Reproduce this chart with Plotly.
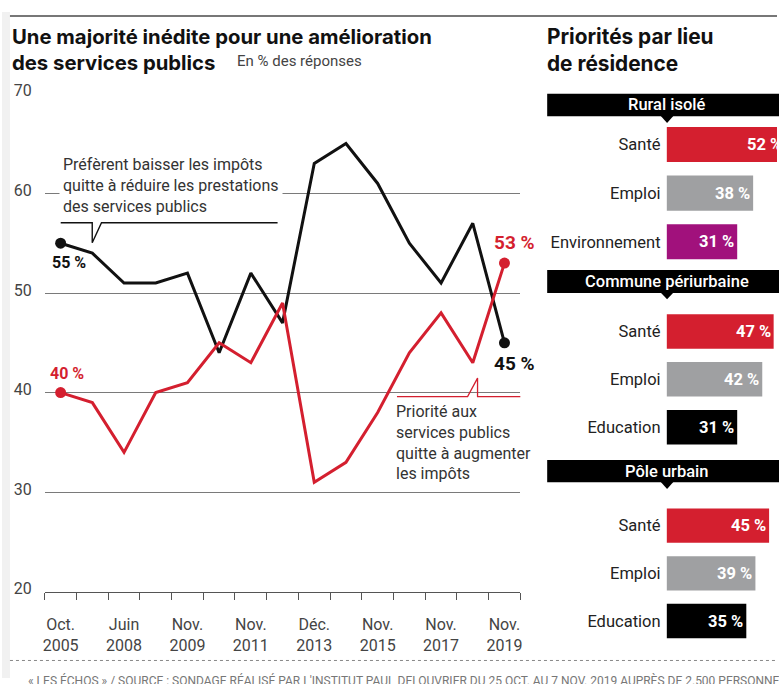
import plotly.graph_objects as go

W, H = 779, 684


def px(x):
    return x / W


def py(y):
    return 1 - y / H


# ---------------- data ----------------
survey_index = list(range(15))
tick_positions = [0, 2, 4, 6, 8, 10, 12, 14]
tick_labels = ["Oct.<br>2005", "Juin<br>2008", "Nov.<br>2009", "Nov.<br>2011",
               "Déc.<br>2013", "Nov.<br>2015", "Nov.<br>2017", "Nov.<br>2019"]
baisser_impots = [55, 54, 51, 51, 52, 44, 52, 47, 63, 65, 61, 55, 51, 57, 45]
augmenter_impots = [40, 39, 34, 40, 41, 45, 43, 49, 31, 33, 38, 44, 48, 43, 53]
y_ticks = [20, 30, 40, 50, 60, 70]

regions = ["Rural isolé", "Commune périurbaine", "Pôle urbain"]
rural_cats = ["Santé", "Emploi", "Environnement"]
rural_vals = [52, 38, 31]
peri_cats = ["Santé", "Emploi", "Education"]
peri_vals = [47, 42, 31]
urbain_cats = ["Santé", "Emploi", "Education"]
urbain_vals = [45, 39, 35]

RED = "#d41f2f"
BLACK = "#111111"
cat_colors = {"Santé": "#d41f2f", "Emploi": "#9fa0a2",
              "Environnement": "#a1117c", "Education": "#000000"}

FONT = "Roboto"
TFONT = "Inter"
TXT = "#333333"

fig = go.Figure()

# ---------------- line chart ----------------
fig.add_trace(go.Scatter(x=survey_index, y=baisser_impots, mode="lines",
                         line=dict(color=BLACK, width=3), xaxis="x", yaxis="y",
                         hoverinfo="skip"))
fig.add_trace(go.Scatter(x=survey_index, y=augmenter_impots, mode="lines",
                         line=dict(color=RED, width=3), xaxis="x", yaxis="y",
                         hoverinfo="skip"))
# end markers drawn on the overlay axis (same range) so that the tick axis exists
fig.add_trace(go.Scatter(x=[survey_index[0], survey_index[-1]],
                         y=[baisser_impots[0], baisser_impots[-1]], mode="markers",
                         marker=dict(color=BLACK, size=11), xaxis="x2", yaxis="y",
                         hoverinfo="skip"))
fig.add_trace(go.Scatter(x=[survey_index[0], survey_index[-1]],
                         y=[augmenter_impots[0], augmenter_impots[-1]], mode="markers",
                         marker=dict(color=RED, size=11), xaxis="x2", yaxis="y",
                         hoverinfo="skip"))

# ---------------- bar panels ----------------
BAR_PPU = 2.29                     # pixels per percentage point
BAR_XMAX = (W - 668) / BAR_PPU     # visible range of the bar axes
panels = [(rural_cats, rural_vals, "3"), (peri_cats, peri_vals, "4"),
          (urbain_cats, urbain_vals, "5")]
for cats, vals, n in panels:
    fig.add_trace(go.Bar(
        x=vals, y=cats, orientation="h",
        marker=dict(color=[cat_colors[c] for c in cats], line=dict(width=0)),
        cliponaxis=True, xaxis="x" + n, yaxis="y" + n, hoverinfo="skip"))

x_dom = [px(43), px(521)]
Y70, Y20 = 84.0, 595.5
ppu = (Y20 - Y70) / 50.0
y_lo, y_hi = 19.95, 70.05
layout = dict(
    width=W, height=H, margin=dict(l=0, r=0, t=0, b=0),
    paper_bgcolor="white", plot_bgcolor="rgba(0,0,0,0)",
    showlegend=False, font=dict(family=FONT, color=TXT),
    xaxis=dict(domain=x_dom, range=[-0.5, 14.5], tickvals=tick_positions,
               ticktext=tick_labels, ticks="", showgrid=False, zeroline=False,
               showline=False, tickfont=dict(size=16, color="#444"),
               anchor="y", ticklabelstandoff=21, fixedrange=True),
    xaxis2=dict(domain=x_dom, range=[-0.5, 14.5], overlaying="x", anchor="y",
                side="bottom",
                tickvals=[i - 0.5 for i in survey_index] + [survey_index[-1] + 0.5],
                showticklabels=False, ticks="outside", ticklen=7,
                tickcolor="#555", tickwidth=1.3, showline=True,
                linecolor="#555", linewidth=1.3, showgrid=False, zeroline=False),
    yaxis=dict(domain=[py(Y20 + 0.05 * ppu), py(Y70 - 0.05 * ppu)], range=[y_lo, y_hi],
               tickvals=y_ticks,
               showgrid=True, gridcolor="#7a7a7a", gridwidth=1, zeroline=False,
               showline=False, ticks="", tickfont=dict(size=16, color="#444"),
               ticklabelstandoff=12, ticklabelshift=-3, anchor="x"),
)

bar_domains = {"3": (111, 261), "4": (303.4, 451.1), "5": (503, 650)}
for n, (top, bot) in bar_domains.items():
    layout["xaxis" + n] = dict(domain=[px(668), 1], range=[0, BAR_XMAX],
                               visible=False, anchor="y" + n)
    layout["yaxis" + n] = dict(domain=[py(bot), py(top)], autorange="reversed",
                               showgrid=False, zeroline=False, showline=False,
                               ticks="", tickfont=dict(size=16.5, color="#222"),
                               ticklabelstandoff=5, anchor="x" + n)
layout["bargap"] = 0.28

fig.update_layout(**layout)

shapes = []
annotations = []

# bar value labels (placed at the bar end; bars longer than the visible
# range are labelled at the edge and shifted by the overflow)
for cats, vals, n in panels:
    for c, v in zip(cats, vals):
        xa = min(v, BAR_XMAX - 1e-6)
        annotations.append(dict(
            xref="x" + n, yref="y" + n, x=xa, y=c, xanchor="right",
            yanchor="middle", xshift=(v - xa) * BAR_PPU - 1, showarrow=False,
            text=f"{v} %",
            font=dict(family=FONT, size=16.5, color="white", weight="bold")))

# page furniture
shapes.append(dict(type="rect", xref="paper", yref="paper", x0=0, x1=px(8),
                   y0=0, y1=1, fillcolor="#f1f1f1", line=dict(width=0), layer="below"))
shapes.append(dict(type="line", xref="paper", yref="paper", x0=px(8), x1=1,
                   y0=py(4), y1=py(4), line=dict(color="#777", width=2)))
shapes.append(dict(type="line", xref="paper", yref="paper", x0=px(8), x1=1,
                   y0=py(666), y1=py(666), line=dict(color="#888", width=1, dash="dot")))

# titles
annotations.append(dict(xref="paper", yref="paper", x=px(8), y=py(10),
                        xanchor="left", yanchor="top", align="left", showarrow=False,
                        text="Une majorité inédite pour une amélioration<br>des services publics",
                        font=dict(family=TFONT, size=20.3, color="#111", weight="bold")))
annotations.append(dict(xref="paper", yref="paper", x=px(234), y=py(50),
                        xanchor="left", yanchor="middle", showarrow=False,
                        text="En % des réponses",
                        font=dict(family=FONT, size=15, color="#444")))
annotations.append(dict(xref="paper", yref="paper", x=px(546), y=py(10),
                        xanchor="left", yanchor="top", align="left", showarrow=False,
                        text="Priorités par lieu<br>de résidence",
                        font=dict(family=TFONT, size=20.8, color="#111", weight="bold")))

# callout texts
annotations.append(dict(xref="paper", yref="paper", x=px(57), y=py(178),
                        xanchor="left", yanchor="middle", align="left", showarrow=False,
                        bgcolor="white", borderpad=3,
                        text="Préfèrent baisser les impôts<br>quitte à réduire les prestations<br>des services publics",
                        font=dict(family=FONT, size=16, color=TXT)))
annotations.append(dict(xref="paper", yref="paper", x=px(394), y=py(442),
                        xanchor="left", yanchor="middle", align="left", showarrow=False,
                        text="Priorité aux<br>services publics<br>quitte à augmenter<br>les impôts",
                        font=dict(family=FONT, size=16, color=TXT)))

# callout pointer lines
shapes.append(dict(type="path", xref="paper", yref="paper",
                   path=f"M {px(59)},{py(216.5)} L {px(90.7)},{py(216.5)} L {px(90.7)},{py(237)} "
                        f"L {px(100)},{py(216.5)} L {px(277)},{py(216.5)}",
                   line=dict(color="#111", width=1.4)))
shapes.append(dict(type="path", xref="paper", yref="paper",
                   path=f"M {px(397)},{py(395)} L {px(468)},{py(395)} L {px(478)},{py(376)} "
                        f"L {px(478)},{py(395)} L {px(521)},{py(395)}",
                   line=dict(color=RED, width=1.3)))

# end labels
annotations.append(dict(xref="x", yref="y", x=survey_index[0], y=baisser_impots[0],
                        xshift=8, yshift=-19, showarrow=False,
                        text=f"{baisser_impots[0]} %",
                        font=dict(family=FONT, size=16, color="#111", weight="bold")))
annotations.append(dict(xref="x", yref="y", x=survey_index[0], y=augmenter_impots[0],
                        xshift=6, yshift=19, showarrow=False,
                        text=f"{augmenter_impots[0]} %",
                        font=dict(family=FONT, size=16, color=RED, weight="bold")))
annotations.append(dict(xref="x", yref="y", x=survey_index[-1], y=augmenter_impots[-1],
                        xshift=10, yshift=21, showarrow=False,
                        text=f"{augmenter_impots[-1]} %",
                        font=dict(family=FONT, size=19, color=RED, weight="bold")))
annotations.append(dict(xref="x", yref="y", x=survey_index[-1], y=baisser_impots[-1],
                        xshift=10, yshift=-21, showarrow=False,
                        text=f"{baisser_impots[-1]} %",
                        font=dict(family=FONT, size=19, color="#111", weight="bold")))

# region headers
headers = [(84, 107, 114), (265, 288.5, 295), (460, 483, 490)]
for name, (top, bot, tip) in zip(regions, headers):
    shapes.append(dict(type="rect", xref="paper", yref="paper", x0=px(548), x1=1.01,
                       y0=py(bot), y1=py(top), fillcolor="black", line=dict(width=0)))
    shapes.append(dict(type="path", xref="paper", yref="paper",
                       path=f"M {px(662)},{py(bot - 0.5)} L {px(675)},{py(bot - 0.5)} "
                            f"L {px(668.5)},{py(tip)} Z",
                       fillcolor="black", line=dict(width=0)))
    annotations.append(dict(xref="paper", yref="paper", x=px(668), y=py((top + bot) / 2),
                            xanchor="center", yanchor="middle", showarrow=False,
                            text=name,
                            font=dict(family=FONT, size=16.5, color="white", weight=500)))

# footer
annotations.append(dict(xref="paper", yref="paper", x=px(24), y=py(687),
                        xanchor="left", yanchor="middle", showarrow=False,
                        text="« LES ÉCHOS » / SOURCE : SONDAGE RÉALISÉ PAR L'INSTITUT PAUL DELOUVRIER DU 25 OCT. AU 7 NOV. 2019 AUPRÈS DE 2.500 PERSONNES",
                        font=dict(family=FONT, size=12, color="#777")))

fig.update_layout(shapes=shapes, annotations=annotations)
fig.write_html("out.html", config={"displayModeBar": False})
